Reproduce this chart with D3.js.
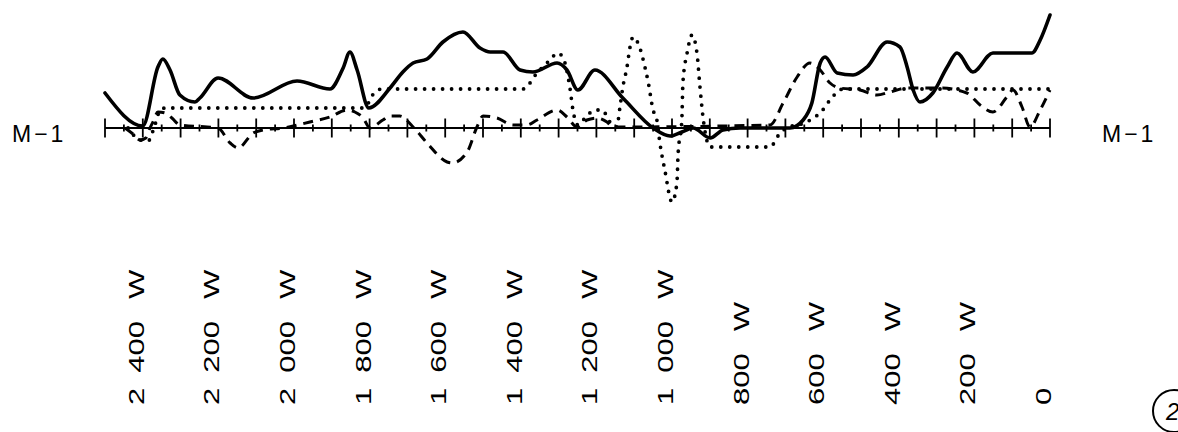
<!doctype html>
<html>
<body>
<style type="text/css">
    html,body{
        margin: 0;
        overflow: hidden;
        background: #fff;
    }
    text {
        font-family: "Liberation Sans", Arial, sans-serif;
        fill: #000;
    }
</style>
<script src="https://cdn.jsdelivr.net/npm/d3@7"></script>
<script type="text/javascript">
// watts on the x axis, curve heights in arbitrary units above the M-1 line
var solidW = [2500,2400,2360,2347,2328,2302,2262,2249,2201,2108,1992,1905,1870,1852,1833,1802,1746,1712,1685,1648,1606,1553,1508,1481,1447,1402,1368,1304,1278,1249,1204,1130,1050,1005,974,944,899,865,820,688,653,630,608,595,563,521,484,431,397,378,362,344,310,272,246,204,151,48,26,0];
var solidV = [3.5,0.2,6.1,6.9,5.8,3.3,2.6,3.0,5.0,3.0,4.7,3.9,6.0,7.6,5.8,2.0,4.0,5.6,6.5,6.9,8.6,9.6,8.0,7.6,7.6,5.8,5.6,6.5,5.8,3.8,5.8,3.0,0,-0.8,-0.4,0,-1.0,-0.2,0,0,0.8,2.5,6.5,7.1,5.5,5.3,6.1,8.6,8.1,6.1,3.8,2.6,3.5,6.1,7.5,5.6,7.5,7.5,8.8,11.3];

var dottedW = [2439,2407,2386,2368,2354,2341,1817,1809,1786,1767,1394,1357,1323,1302,1288,1270,1262,1249,1230,1204,1185,1164,1146,1138,1130,1119,1111,1103,1085,1071,1063,1050,1040,1032,1019,1000,987,984,974,971,960,947,934,926,918,899,741,714,696,643,627,608,582,556,548,0];
var dottedV = [0,-1.2,-1.3,0.3,1.8,2.0,2.0,2.2,3.6,3.9,3.9,5.5,6.8,7.5,7.0,4.0,1.8,0.3,1.0,1.8,1.8,0.6,0.1,2.0,4.1,6.1,8.1,9.1,8.0,6.0,4.6,1.8,0.8,-1.5,-4.2,-7.4,-5.5,-2.7,0.8,4.6,7.5,9.3,7.5,4.1,1.1,-1.9,-1.9,-0.5,0,0.6,1.0,1.5,2.8,3.8,3.9,3.9];

var dashedW = [2447,2426,2407,2392,2381,2373,2360,2341,2323,2302,2230,2201,2169,2148,2108,2082,2029,1958,1905,1860,1839,1817,1799,1765,1746,1720,1685,1648,1595,1582,1542,1516,1500,1463,1421,1384,1357,1304,1278,1251,1225,1198,1172,1156,741,706,669,635,608,582,556,503,458,423,378,291,220,185,151,114,98,74,53,26,0];
var dashedV = [0,-0.6,-1.2,-1.0,0,0.6,1.6,1.5,1.0,0.3,0.1,0,-1.5,-2.0,-0.5,-0.2,0,0.6,1.1,1.8,1.6,1.0,0,0.8,1.2,1.2,0.1,-1.5,-3.4,-3.5,-2.4,0.1,1.2,1.0,0.3,0.3,0.8,1.8,1.1,0.1,0.8,1.0,0.6,0.1,0.3,2.5,5.1,6.5,5.8,4.5,4.0,3.8,3.3,3.6,4.0,4.0,3.5,2.3,1.6,3.1,3.8,2.1,0.1,1.8,3.8];

var labelW = [2400,2200,2000,1800,1600,1400,1200,1000,800,600,400,200,0];
var labelText = ["2 400 W","2 200 W","2 000 W","1 800 W","1 600 W","1 400 W","1 200 W","1 000 W","800 W","600 W","400 W","200 W","0"];
var tickW = d3.range(0, 2501, 50);

(function(){
    var w = 1178, h = 432;

    var x = d3.scaleLinear().domain([2500, 0]).range([105, 1050]);
    var y = d3.scaleLinear().domain([-10, 12]).range([228, 8]);

    var svg = d3.select("body").append("svg")
        .attr("width", w)
        .attr("height", h);

    // axis line with ticks across it
    var y0 = y(0);
    svg.append("line")
        .attr("x1", x(2500)).attr("x2", x(0))
        .attr("y1", y0).attr("y2", y0)
        .attr("stroke", "#000").attr("stroke-width", 2);

    svg.selectAll("line.tick").data(tickW).enter().append("line")
        .attr("class", "tick")
        .attr("x1", function(d){return x(d)}).attr("x2", function(d){return x(d)})
        .attr("y1", function(d){return d % 100 == 0 ? y0 - 9.5 : y0 - 3.5})
        .attr("y2", function(d){return d % 100 == 0 ? y0 + 9.5 : y0 + 3.5})
        .attr("stroke", "#000").attr("stroke-width", 1.8);

    var line = d3.line()
        .x(function(d){return x(d[0])})
        .y(function(d){return y(d[1])})
        .curve(d3.curveMonotoneX);

    function draw(ws, vs, dash, width, cap){
        svg.append("path")
            .datum(d3.zip(ws, vs))
            .attr("d", line)
            .attr("fill", "none")
            .attr("stroke", "#000")
            .attr("stroke-width", width)
            .attr("stroke-linecap", cap)
            .attr("stroke-linejoin", "round")
            .attr("stroke-dasharray", dash);
    }
    draw(dashedW, dashedV, "10 7", 3, "butt");
    draw(dottedW, dottedV, "0 9", 3.8, "round");
    draw(solidW, solidV, null, 3.6, "round");

    // M-1 side labels
    svg.append("text").attr("x", 12).attr("y", 142)
        .style("font-size", "23px").style("letter-spacing", "3px").text("M\u22121");
    svg.append("text").attr("x", 1102).attr("y", 142)
        .style("font-size", "23px").style("letter-spacing", "3px").text("M\u22121");

    // rotated, wide x labels
    var sx = 1.38;
    var lab = svg.selectAll("text.lab").data(labelW).enter().append("text")
        .attr("class", "lab")
        .attr("transform", function(d){return "translate(" + (x(d) + 1) + ",405) rotate(-90) scale(" + sx + ",1)"})
        .style("font-size", "22.5px");
    lab.each(function(d, i){
        var parts = labelText[i].split(" ");
        var t = d3.select(this);
        parts.forEach(function(p, j){
            var gap = j == 0 ? 0 : (p == "W" ? 22 : 15);
            t.append("tspan").attr("dx", gap / sx).text(p);
        });
    });

    // circled page number, cut at the right edge
    svg.append("circle").attr("cx", 1174).attr("cy", 411).attr("r", 21)
        .attr("fill", "none").attr("stroke", "#000").attr("stroke-width", 2);
    svg.append("text").attr("x", 1166).attr("y", 420)
        .style("font-size", "24px").style("font-style", "italic").text("2");
})();
</script>
</body>
</html>
